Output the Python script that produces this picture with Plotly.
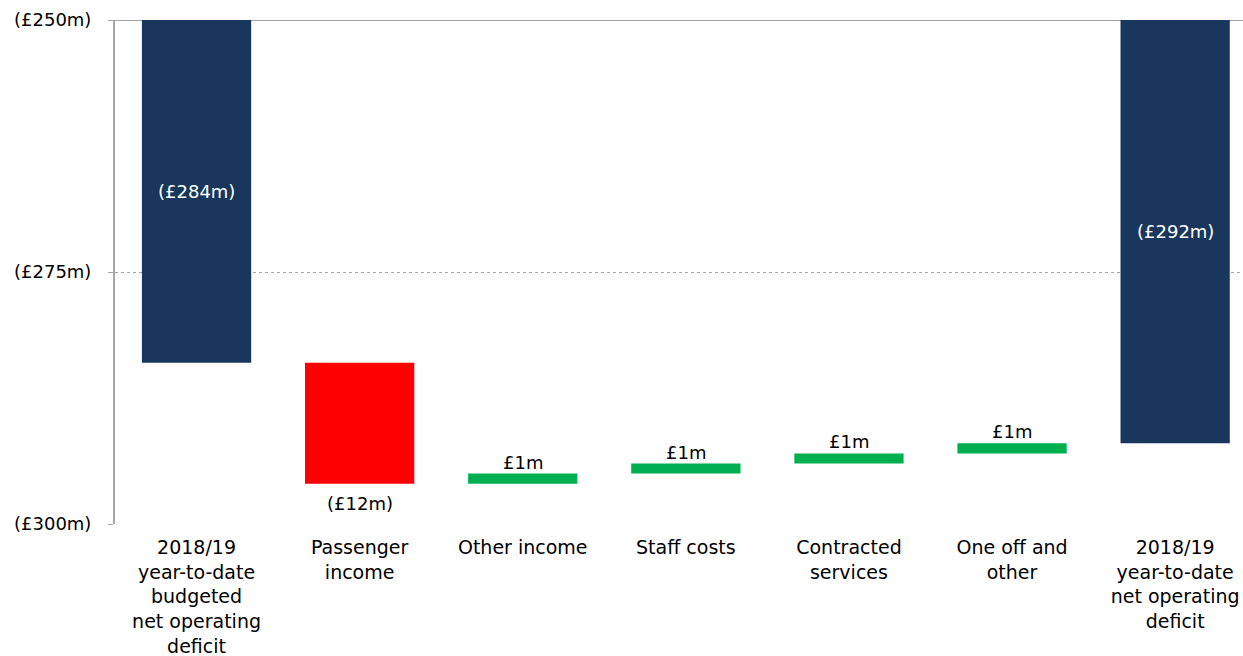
import plotly.graph_objects as go

# Waterfall of year-to-date net operating deficit (£m)
categories = [
    "2018/19<br>year-to-date<br>budgeted<br>net operating<br>deficit",
    "Passenger<br>income",
    "Other income",
    "Staff costs",
    "Contracted<br>services",
    "One off and<br>other",
    "2018/19<br>year-to-date<br>net operating<br>deficit",
]
values = [-284, -12, 1, 1, 1, 1, -292]
measures = ["absolute", "relative", "relative", "relative", "relative", "relative", "total"]
labels = ["(£284m)", "(£12m)", "£1m", "£1m", "£1m", "£1m", "(£292m)"]

y_tickvals = [-250, -275, -300]
y_ticktext = ["(£250m)", "(£275m)", "(£300m)"]

NAVY = "#19375C"
RED = "#FF0000"
GREEN = "#00B050"
FONT = "DejaVu Sans"

y_min, y_max = -300, -250

# Compute bar bases and heights from the running total
bases, heights, colors = [], [], []
running = 0
for v, m in zip(values, measures):
    if m in ("absolute", "total"):
        bases.append(0)
        heights.append(v)
        colors.append(NAVY)
        running = v
    else:
        bases.append(running)
        heights.append(v)
        colors.append(GREEN if v > 0 else RED)
        running += v

x = list(range(len(categories)))

fig = go.Figure(
    go.Bar(
        x=x,
        y=heights,
        base=bases,
        marker=dict(color=colors, line=dict(width=0)),
        width=0.67,
        hoverinfo="skip",
    )
)

annotations = []
for i, (b, h, m, lab) in enumerate(zip(bases, heights, measures, labels)):
    lo, hi = sorted([b, b + h])
    if m in ("absolute", "total"):
        # label centred in the visible part of the bar
        yc = (min(hi, y_max) + max(lo, y_min)) / 2
        annotations.append(dict(x=i, y=yc, text=lab, showarrow=False,
                                font=dict(family=FONT, size=18, color="white")))
    elif h > 0:
        annotations.append(dict(x=i, y=hi, text=lab, showarrow=False, yanchor="bottom",
                                yshift=-1, font=dict(family=FONT, size=18, color="black")))
    else:
        annotations.append(dict(x=i, y=lo, text=lab, showarrow=False, yanchor="top",
                                yshift=-7, font=dict(family=FONT, size=18, color="black")))

fig.update_layout(
    width=1243,
    height=656,
    margin=dict(l=115, r=0, t=20, b=132),
    paper_bgcolor="white",
    plot_bgcolor="white",
    showlegend=False,
    font=dict(family=FONT, size=18, color="black"),
    annotations=annotations,
    xaxis=dict(
        tickmode="array",
        tickvals=x,
        ticktext=categories,
        range=[-0.5, 6.416],
        showgrid=False,
        showline=False,
        zeroline=False,
        ticks="",
        tickfont=dict(family=FONT, size=19, color="black"),
        ticklabelstandoff=10,
        automargin=False,
        fixedrange=True,
    ),
    yaxis=dict(
        range=[y_min, y_max],
        tickmode="array",
        tickvals=y_tickvals,
        ticktext=y_ticktext,
        showgrid=True,
        gridcolor="#A6A6A6",
        griddash="dot",
        gridwidth=1,
        showline=True,
        linecolor="#A6A6A6",
        linewidth=2,
        ticks="outside",
        ticklen=5,
        tickcolor="#A6A6A6",
        zeroline=False,
        tickfont=dict(family=FONT, size=18, color="black"),
        ticklabelstandoff=13,
        automargin=False,
        fixedrange=True,
    ),
    shapes=[
        dict(type="line", xref="paper", yref="y", x0=0, x1=1, y0=y_max, y1=y_max,
             line=dict(color="#A6A6A6", width=2), layer="below"),
    ],
)

fig.write_html("out.html")
